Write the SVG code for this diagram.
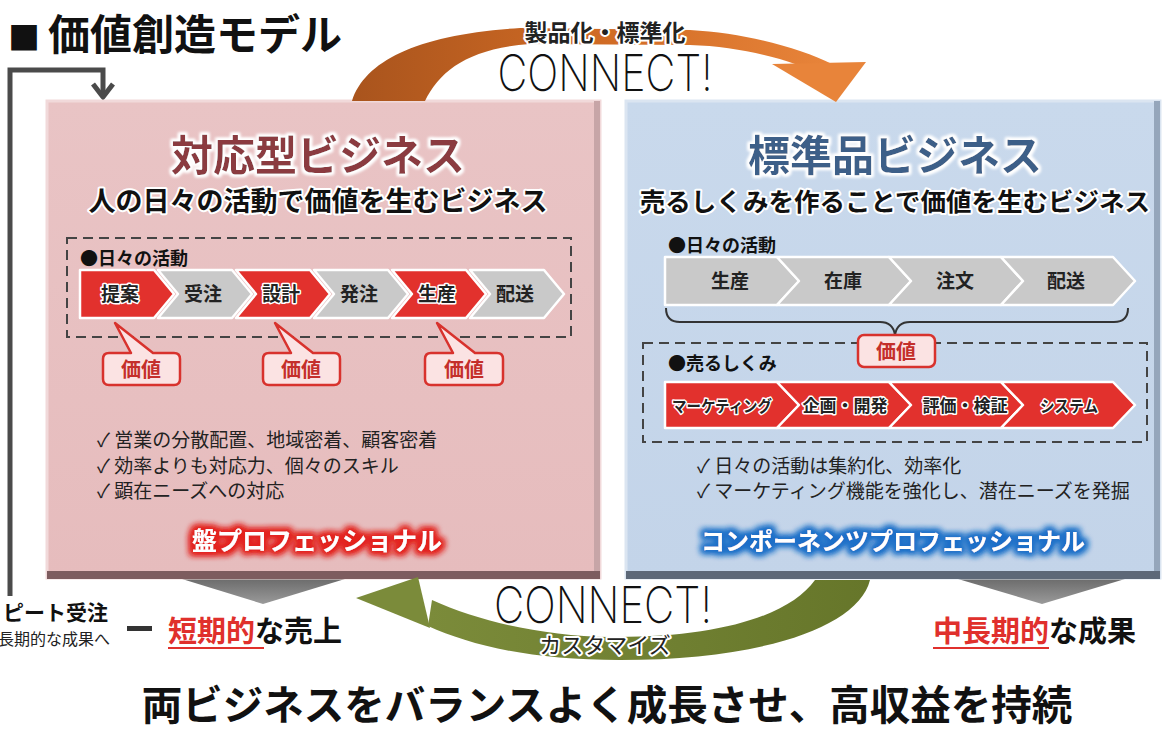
<svg xmlns="http://www.w3.org/2000/svg" width="1163" height="731" viewBox="0 0 1163 731">
<style>
.jp{font-family:'Noto Sans CJK JP','Noto Sans CJK SC','DejaVu Sans',sans-serif}
.b{font-weight:700}
.halo{paint-order:stroke;stroke:#fff;stroke-width:4;stroke-linejoin:round}
.halo2{paint-order:stroke;stroke:#fff;stroke-width:3;stroke-linejoin:round}
.con{font-family:'Inter','Lato','Liberation Sans',sans-serif;font-weight:200;fill:#111}
.chk{font-size:19px;fill:#222}
.redc{fill:#e2312d;stroke:#fff;stroke-width:2.5;stroke-linejoin:round}
.grayc{fill:#c9c9c9;stroke:#fff;stroke-width:2.5;stroke-linejoin:round}
.ctext{font-size:19px;fill:#222;text-anchor:middle}
.val{fill:#fbe3e3;stroke:#d8322d;stroke-width:2.5;stroke-linejoin:round}
.valt{font-size:20px;fill:#c42f2b;text-anchor:middle}
.dash{fill:none;stroke:#444;stroke-width:2;stroke-dasharray:10 6}
</style>
<defs>
<linearGradient id="pinkG" x1="0" y1="0" x2="0" y2="1"><stop offset="0" stop-color="#e9c4c5"/><stop offset="1" stop-color="#e6bcbd"/></linearGradient>
<linearGradient id="blueG" x1="0" y1="0" x2="0" y2="1"><stop offset="0" stop-color="#c9d9ec"/><stop offset="1" stop-color="#c3d4e9"/></linearGradient>
<linearGradient id="orG" x1="0" y1="0" x2="1" y2="0"><stop offset="0" stop-color="#a9541d"/><stop offset="0.5" stop-color="#cf6a24"/><stop offset="1" stop-color="#e8843a"/></linearGradient>
<linearGradient id="grG" x1="0" y1="0" x2="1" y2="0"><stop offset="0" stop-color="#7b8b3a"/><stop offset="1" stop-color="#66762a"/></linearGradient>
<linearGradient id="triG" x1="0" y1="0" x2="0" y2="1"><stop offset="0" stop-color="#6c6c6c"/><stop offset="1" stop-color="#9a9a9a"/></linearGradient>
<filter id="glowRed" x="-20%" y="-50%" width="140%" height="200%">
<feMorphology in="SourceAlpha" operator="dilate" radius="3" result="d"/>
<feGaussianBlur in="d" stdDeviation="3" result="bl"/>
<feFlood flood-color="#e3231f"/>
<feComposite in2="bl" operator="in" result="g"/>
<feMerge><feMergeNode in="g"/><feMergeNode in="g"/><feMergeNode in="SourceGraphic"/></feMerge>
</filter>
<filter id="glowBlue" x="-20%" y="-50%" width="140%" height="200%">
<feMorphology in="SourceAlpha" operator="dilate" radius="3" result="d"/>
<feGaussianBlur in="d" stdDeviation="3" result="bl"/>
<feFlood flood-color="#1e6fc8"/>
<feComposite in2="bl" operator="in" result="g"/>
<feMerge><feMergeNode in="g"/><feMergeNode in="g"/><feMergeNode in="SourceGraphic"/></feMerge>
</filter>
<filter id="glowWhite" x="-10%" y="-30%" width="120%" height="160%">
<feMorphology in="SourceAlpha" operator="dilate" radius="2" result="d"/>
<feGaussianBlur in="d" stdDeviation="1.5" result="bl"/>
<feFlood flood-color="#ffffff"/>
<feComposite in2="bl" operator="in" result="g"/>
<feMerge><feMergeNode in="g"/><feMergeNode in="g"/><feMergeNode in="SourceGraphic"/></feMerge>
</filter>
</defs>
<rect width="1163" height="731" fill="#fff"/>

<g id="title"><text x="8" y="50" class="jp b" fill="#111"><tspan font-size="32">■</tspan><tspan dx="8" font-size="42">価値創造モデル</tspan></text></g>

<g id="triangles">
<polygon points="182,579 345,579 263,604" fill="url(#triG)"/>
<polygon points="958,579 1125,579 1042,604" fill="url(#triG)"/>
</g>

<g id="left-box">
<rect x="47" y="101" width="553" height="477" fill="url(#pinkG)" stroke="#f1d9da" stroke-width="3"/>
<rect x="594" y="101" width="6" height="477" fill="#c7a5a7"/>
<rect x="47" y="571" width="553" height="8" fill="#7d5c5f"/>
<text x="318" y="171" class="jp b" font-size="42" fill="#8b3a40" text-anchor="middle" filter="url(#glowWhite)">対応型ビジネス</text>
<text x="318" y="211" class="jp b halo" font-size="27" fill="#111" text-anchor="middle">人の日々の活動で価値を生むビジネス</text>
<rect x="67" y="238" width="504" height="99" class="dash"/>
<text x="80" y="265" class="jp b" font-size="18" fill="#111">●日々の活動</text>
<path class="redc" d="M80,270 L154,270 L174,294 L154,318 L80,318 Z"/>
<path class="grayc" d="M158,270 L232,270 L252,294 L232,318 L158,318 L178,294 Z"/>
<path class="redc" d="M236,270 L310,270 L330,294 L310,318 L236,318 L256,294 Z"/>
<path class="grayc" d="M314,270 L388,270 L408,294 L388,318 L314,318 L334,294 Z"/>
<path class="redc" d="M392,270 L466,270 L486,294 L466,318 L392,318 L412,294 Z"/>
<path class="grayc" d="M470,270 L544,270 L564,294 L544,318 L470,318 L490,294 Z"/>
<text x="120" y="301" class="jp b ctext halo2">提案</text>
<text x="203" y="301" class="jp b ctext">受注</text>
<text x="281" y="301" class="jp b ctext halo2">設計</text>
<text x="359" y="301" class="jp b ctext">発注</text>
<text x="437" y="301" class="jp b ctext halo2">生産</text>
<text x="515" y="301" class="jp b ctext">配送</text>
<path class="val" d="M109,353 L131,353 L115,323 L153,353 L174,353 Q180,353 180,359 L180,379 Q180,385 174,385 L109,385 Q103,385 103,379 L103,359 Q103,353 109,353 Z"/>
<path class="val" d="M269,353 L291,353 L275,323 L313,353 L334,353 Q340,353 340,359 L340,379 Q340,385 334,385 L269,385 Q263,385 263,379 L263,359 Q263,353 269,353 Z"/>
<path class="val" d="M431,353 L453,353 L437,323 L475,353 L497,353 Q503,353 503,359 L503,379 Q503,385 497,385 L431,385 Q425,385 425,379 L425,359 Q425,353 431,353 Z"/>
<text x="141" y="377" class="jp b valt">価値</text>
<text x="301" y="377" class="jp b valt">価値</text>
<text x="464" y="377" class="jp b valt">価値</text>
<text x="97" y="447" class="jp chk">✓ 営業の分散配置、地域密着、顧客密着</text>
<text x="97" y="473" class="jp chk">✓ 効率よりも対応力、個々のスキル</text>
<text x="97" y="498" class="jp chk">✓ 顕在ニーズへの対応</text>
<text x="317" y="550" class="jp b" font-size="25" fill="#fff" text-anchor="middle" filter="url(#glowRed)">盤プロフェッショナル</text>
</g>

<g id="right-box">
<rect x="626" y="101" width="534" height="477" fill="url(#blueG)" stroke="#dbe5f1" stroke-width="3"/>
<rect x="1154" y="101" width="6" height="477" fill="#95a6bb"/>
<rect x="626" y="571" width="534" height="8" fill="#5d6878"/>
<text x="895" y="171" class="jp b" font-size="42" fill="#3d5f88" text-anchor="middle" filter="url(#glowWhite)">標準品ビジネス</text>
<text x="895" y="211" class="jp b halo" font-size="25.5" fill="#111" text-anchor="middle">売るしくみを作ることで価値を生むビジネス</text>
<text x="668" y="252" class="jp b" font-size="18" fill="#111">●日々の活動</text>
<path class="grayc" d="M665,257 L777,257 L799,281 L777,305 L665,305 Z"/>
<path class="grayc" d="M777,257 L889,257 L911,281 L889,305 L777,305 L799,281 Z"/>
<path class="grayc" d="M889,257 L1001,257 L1023,281 L1001,305 L889,305 L911,281 Z"/>
<path class="grayc" d="M1001,257 L1113,257 L1135,281 L1113,305 L1001,305 L1023,281 Z"/>
<text x="730" y="288" class="jp b ctext">生産</text>
<text x="843" y="288" class="jp b ctext">在庫</text>
<text x="955" y="288" class="jp b ctext">注文</text>
<text x="1066" y="288" class="jp b ctext">配送</text>
<path d="M666,308 Q666,322 680,322 L880,322 Q893,322 895,335 Q897,322 910,322 L1114,322 Q1128,322 1128,308" fill="none" stroke="#333" stroke-width="2"/>
<rect x="643" y="343" width="504" height="99" class="dash"/>
<rect x="858" y="335" width="77" height="32" rx="6" class="val"/>
<text x="896" y="359" class="jp b valt">価値</text>
<text x="668" y="370" class="jp b" font-size="18" fill="#111">●売るしくみ</text>
<path class="redc" d="M665,382 L777,382 L799,405 L777,428 L665,428 Z"/>
<path class="redc" d="M777,382 L889,382 L911,405 L889,428 L777,428 L799,405 Z"/>
<path class="redc" d="M889,382 L1001,382 L1023,405 L1001,428 L889,428 L911,405 Z"/>
<path class="redc" d="M1001,382 L1113,382 L1135,405 L1113,428 L1001,428 L1023,405 Z"/>
<text x="722" y="412" class="jp b halo2" font-size="16" fill="#222" text-anchor="middle" textLength="100" lengthAdjust="spacingAndGlyphs">マーケティング</text>
<text x="845" y="412" class="jp b halo2" font-size="17" fill="#222" text-anchor="middle">企画・開発</text>
<text x="965" y="412" class="jp b halo2" font-size="17" fill="#222" text-anchor="middle">評価・検証</text>
<text x="1069" y="412" class="jp b halo2" font-size="16" fill="#222" text-anchor="middle" textLength="58" lengthAdjust="spacingAndGlyphs">システム</text>
<text x="697" y="473" class="jp chk">✓ 日々の活動は集約化、効率化</text>
<text x="697" y="498" class="jp chk">✓ マーケティング機能を強化し、潜在ニーズを発掘</text>
<text x="893" y="550" class="jp b" font-size="24" fill="#fff" text-anchor="middle" filter="url(#glowBlue)">コンポーネンツプロフェッショナル</text>
</g>

<g id="connectors">
<path d="M10,596 L10,70 L103,70 L103,96" fill="none" stroke="#4a4a4a" stroke-width="5"/>
<polyline points="93,84 103,97 113,84" fill="none" stroke="#4a4a4a" stroke-width="5" stroke-linejoin="round"/>
<path d="M352,101 C365,60 420,34 520,28 L690,30 C745,33 800,48 832,64 L795,64 C770,55 730,46 690,45 L530,44 C470,48 440,70 425,101 Z" fill="url(#orG)"/>
<polygon points="772,64 866,62 836,102" fill="#e8843a"/>
<path d="M870,580 C858,628 760,660 620,660 C530,660 470,645 428,626 L432,600 C480,622 545,636 610,637 C720,638 790,615 815,580 Z" fill="url(#grG)"/>
<polygon points="356,598 418,577 430,628" fill="#7b8b3a"/>
</g>

<g id="connect-top">
<text x="605" y="41" class="jp b halo" font-size="23" fill="#222" text-anchor="middle">製品化・標準化</text>
<text x="605" y="91" class="con" font-size="50" text-anchor="middle" textLength="215" lengthAdjust="spacingAndGlyphs">CONNECT!</text>
</g>

<g id="connect-bottom">
<text x="603" y="623" class="con" font-size="50" text-anchor="middle" textLength="218" lengthAdjust="spacingAndGlyphs">CONNECT!</text>
<text x="605" y="653" class="jp halo" font-size="22" fill="#222" text-anchor="middle">カスタマイズ</text>
</g>

<g id="bottom-left">
<text x="3" y="620" class="jp b" font-size="21" fill="#111">ピート受注</text>
<text x="-2" y="645" class="jp" font-size="16" fill="#222">長期的な成果へ</text>
<rect x="127" y="626" width="25" height="5" fill="#333"/>
<text x="168" y="642" class="jp b" font-size="29" fill="#111"><tspan fill="#e0302c">短期的</tspan>な売上</text>
<line x1="168" y1="648" x2="264" y2="648" stroke="#e0302c" stroke-width="2"/>
</g>

<g id="bottom-right">
<text x="933" y="642" class="jp b" font-size="29" fill="#111"><tspan fill="#e0302c">中長期的</tspan>な成果</text>
<line x1="933" y1="648" x2="1049" y2="648" stroke="#e0302c" stroke-width="2"/>
</g>

<g id="footer"><text x="607" y="720" class="jp b" font-size="40.5" fill="#111" text-anchor="middle">両ビジネスをバランスよく成長させ、高収益を持続</text></g>
</svg>
